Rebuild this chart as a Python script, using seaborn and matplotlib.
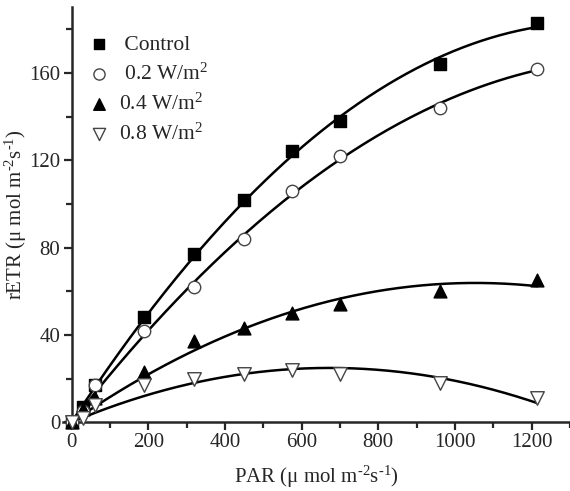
import numpy as np
import pandas as pd
import matplotlib
matplotlib.use("Agg")
import matplotlib.pyplot as plt
import seaborn as sns
from matplotlib.ticker import MultipleLocator

par = [0, 30, 60, 190, 320, 450, 575, 700, 960, 1215]
control = [0, 7, 17, 48, 77, 102, 124, 138, 164, 183]
w02 = [0, 5, 17, 42, 62, 84, 106, 122, 144, 162]
w04 = [0, 6, 11, 23, 37, 43, 50, 54, 60, 65]
w08 = [0, 2, 8, 17, 20, 22, 24, 22, 18, 11]
labels = [" Control", " 0.2 W/m$^2$", "0.4 W/m$^2$", "0.8 W/m$^2$"]

sns.set_style("ticks")
plt.rcParams["font.family"] = ["Liberation Serif", "DejaVu Serif"]
plt.rcParams["mathtext.fontset"] = "custom"
plt.rcParams["mathtext.rm"] = "Liberation Serif"
plt.rcParams["mathtext.it"] = "Liberation Serif:italic"

fig, ax = plt.subplots(figsize=(5.7, 4.91), dpi=100)
fig.subplots_adjust(left=0.11, right=1.0, bottom=0.14, top=0.985)

series = [control, w02, w04, w08]
styles = [
    dict(marker="s", facecolor="black", edgecolor="black", s=70),
    dict(marker="o", facecolor="white", edgecolor="#444444", s=80),
    dict(marker="^", facecolor="black", edgecolor="black", s=85),
    dict(marker="v", facecolor="white", edgecolor="#444444", s=95),
]

xs = np.array(par, dtype=float)
xfit = np.linspace(0, 1215, 200)
handles = []
for vals, st, lab in zip(series, styles, labels):
    ys = np.array(vals, dtype=float)
    # quadratic fit through origin
    A = np.vstack([xs, xs ** 2]).T
    coef, *_ = np.linalg.lstsq(A, ys, rcond=None)
    fit = pd.DataFrame({"x": xfit, "y": coef[0] * xfit + coef[1] * xfit ** 2})
    sns.lineplot(data=fit, x="x", y="y", color="black", lw=1.8, ax=ax, zorder=2)
    h = ax.scatter(xs, ys, marker=st["marker"], facecolors=st["facecolor"],
                   edgecolors=st["edgecolor"], s=st["s"], linewidths=1.0, zorder=3,
                   label=lab, clip_on=False)
    handles.append(h)

ax.set_xlim(-23, 1300)
ax.set_ylim(0, 190)
ax.spines["left"].set_position(("data", 0))
ax.spines["top"].set_visible(False)
ax.spines["right"].set_visible(False)
for sp in ("left", "bottom"):
    ax.spines[sp].set_linewidth(1.8)
ax.set_xticks([0, 200, 400, 600, 800, 1000, 1200])
ax.xaxis.set_minor_locator(MultipleLocator(100))
ax.yaxis.set_major_locator(MultipleLocator(40))
ax.yaxis.set_minor_locator(MultipleLocator(20))
ax.tick_params(which="major", length=6, width=1.6, labelsize=15, direction="out", pad=2)
ax.tick_params(which="minor", length=4, width=1.6, direction="out")

unit = " (\u03bc mol m$^{\\text{-}2}$s$^{\\text{-}1}$)"
ax.set_xlabel("PAR" + unit, fontsize=15, labelpad=8)
ax.set_ylabel("rETR" + unit, fontsize=15, labelpad=0)

ax.legend(handles=handles, loc="upper left", bbox_to_anchor=(0.02, 0.965), frameon=False,
          fontsize=15.5, handletextpad=0.35, labelspacing=0.4, markerscale=0.9,
          scatterpoints=1, borderaxespad=0.2, handlelength=1.2)

fig.savefig("out.png", dpi=100)
